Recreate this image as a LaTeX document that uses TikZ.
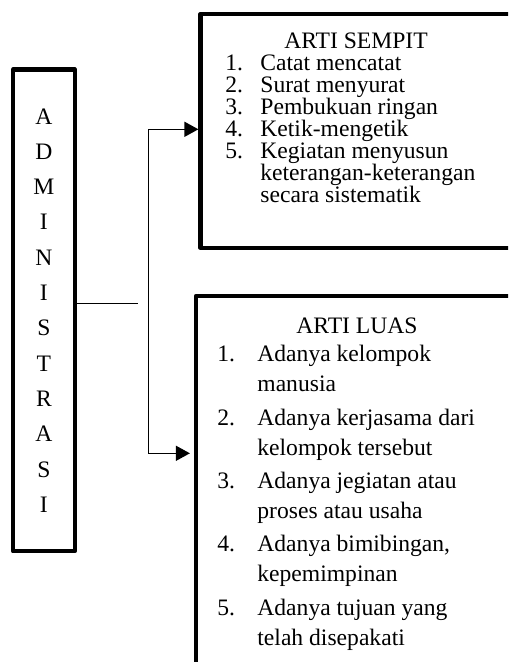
\documentclass[tikz,border=0pt]{standalone}
\usepackage{fontspec}
\setmainfont{Liberation Serif}
\usetikzlibrary{arrows.meta}
\newcommand{\num}[1]{\makebox[17.5pt][l]{#1}}
\newcommand{\numb}[1]{\makebox[20pt][l]{#1}}

\begin{document}
\begin{tikzpicture}[
  x=0.5pt, y=-0.5pt,
  box/.style={rectangle, draw=black, line width=2.1pt, line join=round, inner sep=0pt},
  title/.style={inner sep=0pt, anchor=base, font=\fontsize{11.8pt}{11pt}\selectfont},
  listtext/.style={inner sep=0pt, anchor=base west, align=left},
  arr/.style={-{Triangle[length=7pt, width=7.5pt]}, line width=0.7pt},
  conn/.style={line width=0.7pt}
]
\useasboundingbox (0,0) rectangle (508,662);
\clip (0,0) rectangle (508,662);

% Left box
\node[box, minimum width=30.85pt, minimum height=240.9pt, align=center,
      font=\fontsize{11.8pt}{17.65pt}\selectfont] (admin) at (43.9,310.4)
      {A\\D\\M\\I\\N\\I\\S\\T\\R\\A\\S\\I};

% Top right box (list placed by its last line)
\node[box, minimum width=156.25pt, minimum height=117pt] (sempit) at (356.75,131) {};
\node[title] (sempittitle) at (356,49) {ARTI SEMPIT};
\node[listtext, font=\fontsize{11.8pt}{11pt}\selectfont] (sempitlist) at (225,203)
      {\num{1.}Catat mencatat\\
       \num{2.}Surat menyurat\\
       \num{3.}Pembukuan ringan\\
       \num{4.}Ketik-mengetik\\
       \num{5.}Kegiatan menyusun\\
       \hspace*{17.5pt}keterangan-keterangan\\
       \hspace*{17.5pt}secara sistematik};

% Bottom right box
\node[box, minimum width=162pt, minimum height=202pt] (luas) at (358,498) {};
\node[title] (luastitle) at (357,333) {ARTI LUAS};
\node[listtext, font=\fontsize{11.8pt}{15pt}\selectfont] (luaslist) at (217,645)
      {\numb{1.}Adanya kelompok\\
       \hspace*{20pt}manusia\\[1.65pt]
       \numb{2.}Adanya kerjasama dari\\
       \hspace*{20pt}kelompok tersebut\\[1.65pt]
       \numb{3.}Adanya jegiatan atau\\
       \hspace*{20pt}proses atau usaha\\[1.65pt]
       \numb{4.}Adanya bimibingan,\\
       \hspace*{20pt}kepemimpinan\\[1.65pt]
       \numb{5.}Adanya tujuan yang\\
       \hspace*{20pt}telah disepakati};

% Connectors
\coordinate (stub) at (137.7,303.3);
\coordinate (up) at (148.3,129.3);
\coordinate (down) at (148.3,453.3);
\draw[conn] (admin.east |- stub) -- (stub);
\draw[arr] (down) -- (up) -- (up -| sempit.west);
\draw[arr, shorten >=2pt] (up) -- (down) -- (down -| luas.west);
\end{tikzpicture}
\end{document}
